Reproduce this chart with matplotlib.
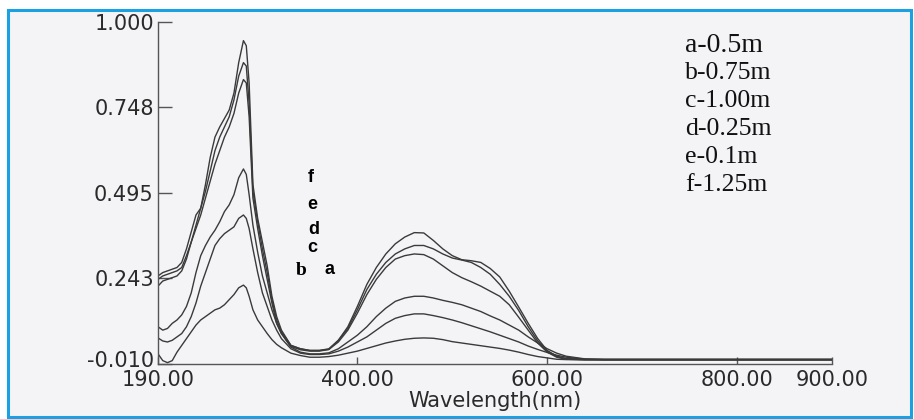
import matplotlib
matplotlib.use("Agg")
import matplotlib.pyplot as plt
from matplotlib.patches import Rectangle
from matplotlib.transforms import ScaledTranslation

# -------------------------------------------
#  Data
# -------------------------------------------
wavelength = [190, 195, 200, 205, 210, 215, 220, 225, 230, 235, 240, 245, 250, 255,
              260, 265, 270, 275, 280, 283, 286, 290, 295, 300, 305, 310, 315, 320,
              330, 340, 350, 360, 370, 380, 390, 400, 410, 420, 430, 440, 450, 460,
              470, 480, 490, 500, 510, 520, 530, 540, 550, 560, 570, 580, 590, 600,
              610, 620, 640, 660, 700, 750, 800, 850, 900]

abs_f = [0.25, 0.26, 0.265, 0.27, 0.275, 0.29, 0.33, 0.38, 0.43, 0.45, 0.52, 0.60, 0.66, 0.69,
         0.715, 0.74, 0.79, 0.88, 0.945, 0.93, 0.82, 0.52, 0.42, 0.35, 0.28, 0.19, 0.13, 0.09,
         0.045, 0.035, 0.03, 0.03, 0.033, 0.06, 0.10, 0.16, 0.225, 0.275, 0.315, 0.345, 0.365, 0.378,
         0.377, 0.355, 0.33, 0.31, 0.298, 0.295, 0.29, 0.272, 0.247, 0.205, 0.158, 0.11, 0.065, 0.03,
         0.013, 0.006, 0.004, 0.004, 0.004, 0.004, 0.004, 0.004, 0.004]

abs_e = [0.22, 0.235, 0.24, 0.245, 0.25, 0.265, 0.30, 0.35, 0.40, 0.45, 0.50, 0.56, 0.62, 0.66,
         0.69, 0.72, 0.77, 0.84, 0.88, 0.87, 0.76, 0.50, 0.41, 0.33, 0.26, 0.18, 0.12, 0.085,
         0.045, 0.035, 0.03, 0.03, 0.035, 0.06, 0.095, 0.15, 0.21, 0.255, 0.29, 0.315, 0.33, 0.34,
         0.34, 0.33, 0.315, 0.303, 0.297, 0.29, 0.275, 0.255, 0.225, 0.19, 0.148, 0.10, 0.058, 0.028,
         0.012, 0.005, 0.003, 0.003, 0.003, 0.003, 0.003, 0.003, 0.003]

abs_d = [0.24, 0.25, 0.255, 0.26, 0.265, 0.275, 0.31, 0.35, 0.39, 0.43, 0.48, 0.53, 0.58, 0.62,
         0.66, 0.69, 0.73, 0.79, 0.83, 0.82, 0.72, 0.48, 0.39, 0.31, 0.24, 0.17, 0.11, 0.08,
         0.042, 0.032, 0.028, 0.028, 0.033, 0.055, 0.09, 0.14, 0.195, 0.24, 0.275, 0.30, 0.31, 0.315,
         0.313, 0.30, 0.28, 0.26, 0.245, 0.233, 0.22, 0.205, 0.19, 0.165, 0.128, 0.09, 0.052, 0.025,
         0.01, 0.004, 0.003, 0.003, 0.003, 0.003, 0.003, 0.003, 0.003]

abs_c = [0.10, 0.09, 0.095, 0.11, 0.12, 0.135, 0.16, 0.20, 0.26, 0.31, 0.34, 0.365, 0.385, 0.41,
         0.44, 0.46, 0.49, 0.54, 0.566, 0.55, 0.49, 0.40, 0.32, 0.25, 0.20, 0.15, 0.11, 0.08,
         0.04, 0.025, 0.02, 0.02, 0.023, 0.035, 0.055, 0.075, 0.10, 0.13, 0.155, 0.175, 0.185, 0.19,
         0.19, 0.185, 0.178, 0.172, 0.165, 0.155, 0.145, 0.132, 0.12, 0.105, 0.09, 0.07, 0.052, 0.035,
         0.022, 0.013, 0.005, 0.003, 0.003, 0.003, 0.003, 0.003, 0.003]

abs_b = [0.067, 0.058, 0.055, 0.06, 0.07, 0.08, 0.10, 0.13, 0.17, 0.22, 0.26, 0.30, 0.34, 0.36,
         0.375, 0.385, 0.395, 0.42, 0.43, 0.42, 0.39, 0.33, 0.26, 0.20, 0.16, 0.12, 0.09, 0.065,
         0.035, 0.022, 0.018, 0.018, 0.02, 0.028, 0.04, 0.055, 0.07, 0.09, 0.11, 0.125, 0.133, 0.138,
         0.138, 0.133, 0.127, 0.12, 0.112, 0.103, 0.094, 0.085, 0.075, 0.065, 0.055, 0.043, 0.033, 0.024,
         0.016, 0.01, 0.004, 0.003, 0.003, 0.003, 0.003, 0.003, 0.003]

abs_a = [0.02, 0.0, -0.006, 0.0, 0.025, 0.045, 0.065, 0.085, 0.105, 0.12, 0.13, 0.14, 0.15, 0.155,
         0.165, 0.18, 0.195, 0.215, 0.223, 0.215, 0.19, 0.15, 0.12, 0.10, 0.08, 0.062, 0.048, 0.038,
         0.022, 0.015, 0.01, 0.01, 0.012, 0.016, 0.022, 0.028, 0.036, 0.044, 0.052, 0.058, 0.063, 0.066,
         0.067, 0.066, 0.062, 0.056, 0.052, 0.048, 0.044, 0.04, 0.036, 0.031, 0.025, 0.018, 0.012, 0.008,
         0.004, 0.003, 0.002, 0.002, 0.002, 0.002, 0.002, 0.002, 0.002]

curves = [abs_f, abs_e, abs_d, abs_c, abs_b, abs_a]

x_ticks = [190, 400, 600, 800, 900]
x_tick_labels = ["190.00", "400.00", "600.00", "800.00", "900.00"]
y_ticks = [-0.010, 0.243, 0.495, 0.748, 1.000]

legend_lines = ["a-0.5m", "b-0.75m", "c-1.00m", "d-0.25m", "e-0.1m", "f-1.25m"]

# -------------------------------------------
#  Figure with scanned-paper look and blue frame
# -------------------------------------------
fig = plt.figure(figsize=(9.14, 4.19), dpi=100)
fig.patch.set_facecolor("white")
fig.patches.append(Rectangle((8 / 914, 2 / 419), 903 / 914, 407 / 419,
                             transform=fig.transFigure, facecolor="#f4f4f7",
                             edgecolor="#1ba1e2", linewidth=2.2, zorder=-5))

ax = fig.add_axes([158 / 914, 55 / 419, 674 / 914, 342 / 419])
ax.set_facecolor("none")
ax.set_zorder(2)

for vals in curves:
    ax.plot(wavelength, vals, color="#3a3a3a", linewidth=1.0)

ax.set_xlim(190, 900)
ax.set_ylim(-0.010, 1.000)

ax.set_xticks(x_ticks)
ax.set_xticklabels(x_tick_labels)
ax.set_yticks(y_ticks)
ax.set_yticklabels(["%.3f" % v for v in y_ticks])

for side in ["top", "right"]:
    ax.spines[side].set_visible(False)
for side in ["left", "bottom"]:
    ax.spines[side].set_color("#555555")
    ax.spines[side].set_linewidth(1.0)

ax.tick_params(axis="y", direction="in", length=10, width=1, color="#555555",
               labelsize=15, labelcolor="#2a2a2a", pad=3)
ax.tick_params(axis="x", direction="in", length=5, width=1, color="#555555",
               labelsize=15, labelcolor="#2a2a2a", pad=4)
ax.set_xlabel("Wavelength(nm)", fontsize=15, color="#2a2a2a", labelpad=1)

# lowest y label sits a bit above its tick in the scan
low_lab = ax.get_yticklabels()[0]
low_lab.set_transform(low_lab.get_transform() + ScaledTranslation(0, 5 / 100, fig.dpi_scale_trans))

# -------------------------------------------
#  Curve letters next to the first peak
# -------------------------------------------
ax.text(351, 0.54, "f", fontsize=13, fontweight="bold", family="Liberation Sans", ha="center", va="center")
ax.text(352, 0.46, "e", fontsize=13, fontweight="bold", family="Liberation Sans", ha="center", va="center")
ax.text(354, 0.387, "d", fontsize=13, fontweight="bold", family="Liberation Sans", ha="center", va="center")
ax.text(352, 0.334, "c", fontsize=13, fontweight="bold", family="Liberation Sans", ha="center", va="center")
ax.text(341, 0.266, "b", fontsize=14, fontweight="bold", family="Liberation Serif", ha="center", va="center")
ax.text(371, 0.269, "a", fontsize=13, fontweight="bold", family="Liberation Sans", ha="center", va="center")

# -------------------------------------------
#  Concentration key (top right)
# -------------------------------------------
for i, txt in enumerate(legend_lines):
    size = 20 if i == 0 else 18.5
    fig.text(685 / 914, 1 - (45 + 28 * i) / 419, txt, fontsize=size,
             family="Liberation Serif", ha="left", va="center", color="#111111")

plt.savefig("out.png", dpi=100)
